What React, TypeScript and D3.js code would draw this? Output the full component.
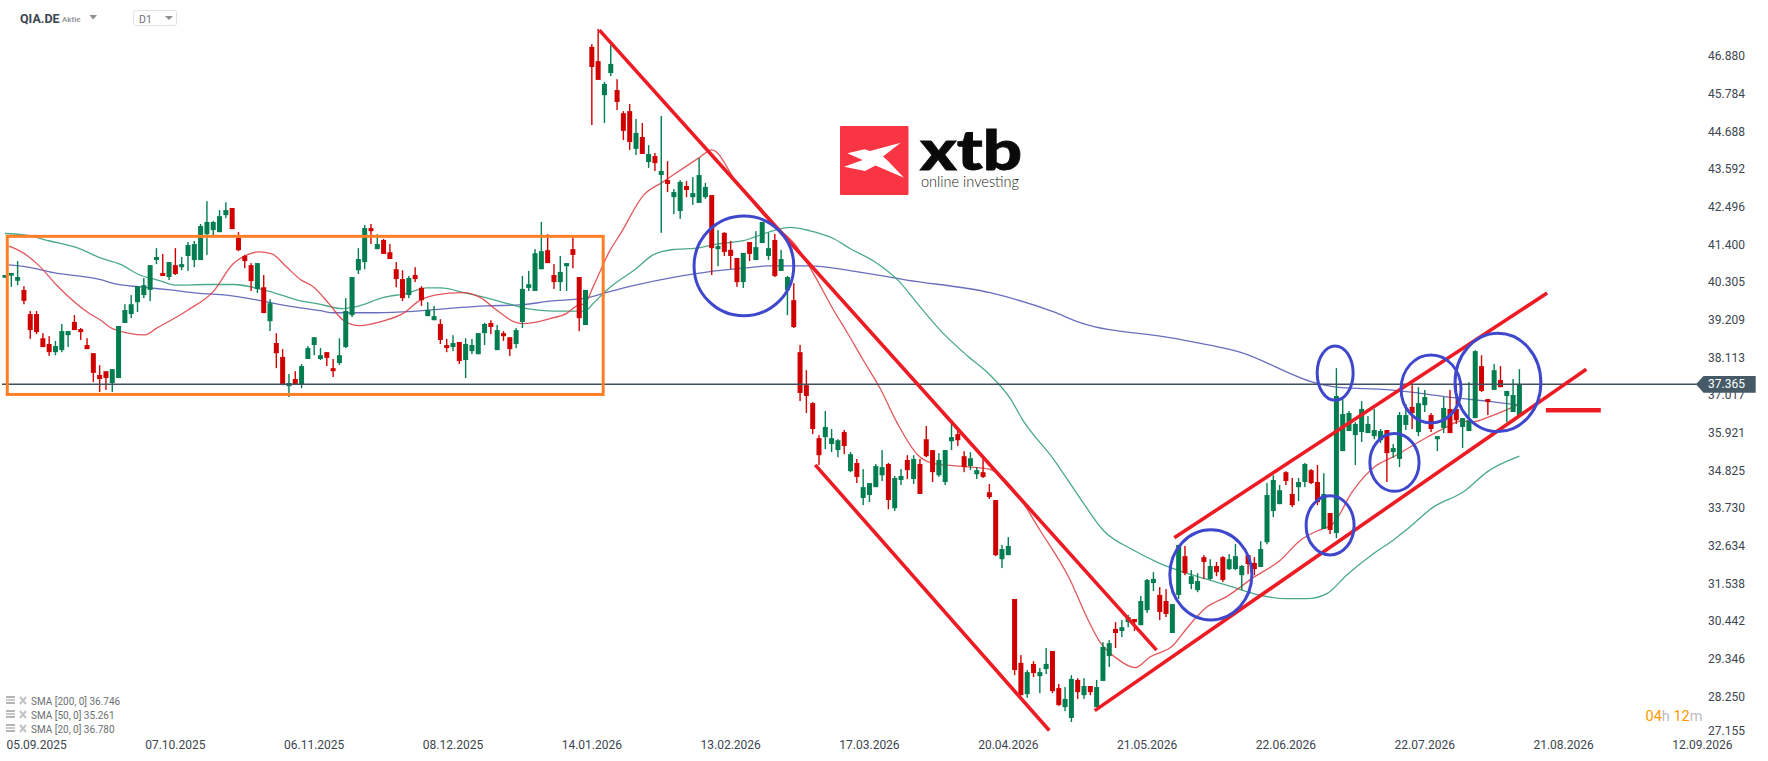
import * as d3 from "d3";

// prices, one block of ten per line
const rawOpens = [
  40.50,40.56,40.41,40.14,39.43,39.43,38.72,38.55,38.31,38.37,
  38.81,39.20,38.99,38.52,38.28,37.64,37.75,37.40,37.55,39.17,
  39.43,39.78,39.99,40.14,41.02,40.64,40.52,40.87,40.81,41.14,
  41.02,41.02,41.78,41.90,41.84,42.34,42.55,41.67,41.14,40.87,
  40.17,40.22,39.22,38.58,38.17,37.31,37.52,37.37,38.11,38.52,
  38.11,38.31,37.84,37.99,38.46,39.40,40.72,40.96,41.96,41.34,
  41.61,41.25,40.75,40.46,39.99,40.58,40.20,39.37,39.25,39.14,
  38.52,38.46,38.61,38.08,38.34,38.25,38.87,39.17,38.37,38.87,
  38.75,38.55,39.20,40.20,40.11,40.75,41.31,40.58,40.37,40.84,
  41.34,40.52,39.11,47.29,46.87,45.87,46.52,46.02,45.34,45.40,
  44.29,44.64,43.90,44.08,43.52,43.37,42.87,42.46,43.20,42.87,
  42.70,42.87,42.93,41.34,41.82,41.32,41.08,40.37,41.55,41.02,
  41.52,41.14,41.61,40.70,40.14,39.84,38.31,37.34,36.81,35.78,
  35.81,35.61,35.43,35.96,34.81,35.05,34.02,34.11,34.34,34.69,
  35.02,33.72,34.55,35.14,34.58,35.02,35.75,35.43,34.69,34.49,
  35.69,35.90,35.25,34.96,34.72,34.78,34.19,33.96,32.22,32.34,
  31.05,29.17,28.25,29.14,28.78,28.99,29.52,28.43,27.87,27.55,
  28.67,28.22,28.49,27.87,28.64,29.37,30.17,30.11,30.37,30.46,
  30.28,30.72,31.52,31.17,30.99,30.05,31.17,32.31,31.49,31.31,
  32.28,31.64,32.02,32.28,31.93,31.93,31.75,32.34,32.11,31.99,
  32.72,33.64,33.84,34.78,34.14,34.34,34.49,34.84,34.49,33.11,
  33.58,32.99,35.40,35.99,35.87,35.96,35.93,35.84,35.72,36.02,
  35.37,35.17,36.17,36.70,35.96,36.75,36.46,35.75,36.08,36.64,
  36.64,36.11,35.99,36.37,37.90,36.93,37.20,37.49,37.02,36.55,36.43,
];
const rawCloses = [
  40.58,40.64,40.52,39.82,38.96,38.90,38.46,38.31,38.49,38.93,
  38.93,38.96,38.90,38.40,37.70,37.52,37.55,37.81,39.08,39.55,
  39.72,40.25,40.28,40.87,41.11,40.55,40.96,40.61,40.90,41.46,
  41.49,42.02,42.14,42.14,42.31,42.49,41.93,41.31,40.99,40.40,
  40.93,39.46,39.75,38.28,37.37,37.40,37.37,37.90,38.43,38.75,
  38.22,38.14,37.75,38.22,39.52,40.52,41.05,41.96,41.87,41.49,
  41.20,41.05,40.46,39.90,40.49,40.46,39.84,39.55,39.37,38.67,
  38.43,38.58,38.05,38.55,38.52,38.87,39.14,39.05,38.96,38.78,
  38.40,38.96,40.17,40.31,41.22,41.28,40.93,40.37,40.67,40.93,
  41.17,39.31,40.14,46.70,46.32,46.20,46.79,45.67,44.82,44.49,
  44.76,44.14,44.14,43.87,43.64,43.26,43.02,43.32,43.08,42.99,
  43.52,43.17,41.37,41.43,41.26,41.14,40.37,41.23,41.20,41.40,
  42.14,41.37,40.55,41.05,40.52,39.05,37.11,37.02,36.05,35.28,
  36.11,35.78,35.72,35.55,35.31,34.64,34.34,34.46,34.96,34.93,
  33.96,34.61,34.67,34.84,35.17,34.14,35.25,34.78,35.14,35.43,
  35.81,35.72,34.93,35.19,34.84,34.64,34.05,32.34,32.52,32.61,
  28.96,28.22,28.90,28.87,28.90,29.14,28.34,27.93,28.11,28.70,
  28.31,28.49,28.31,28.46,29.64,29.75,30.05,30.22,30.52,30.37,
  30.99,31.61,31.64,30.67,30.61,30.90,32.64,31.81,31.72,31.58,
  32.14,32.02,31.84,31.61,32.22,32.31,32.02,32.08,31.93,32.52,
  34.11,34.55,34.25,34.52,33.81,34.49,35.02,34.46,33.90,34.14,
  33.08,37.02,36.49,36.52,36.20,36.64,36.20,36.02,35.99,35.34,
  35.49,36.46,36.46,36.52,36.81,36.99,36.05,35.84,36.67,35.93,
  36.31,36.37,36.31,38.34,37.17,36.84,37.78,37.28,37.17,37.05,37.37,
];
const rawHighs = [
  40.58,40.64,40.99,40.25,39.52,39.52,38.87,38.78,38.64,39.14,
  38.93,39.40,39.02,38.72,38.28,37.93,37.75,37.81,39.08,39.72,
  39.99,40.25,40.49,40.87,41.37,41.20,40.96,41.37,41.11,41.55,
  41.58,42.08,42.75,42.17,42.49,42.72,42.55,41.84,41.17,40.93,
  40.93,40.58,39.87,38.87,38.40,37.67,37.75,37.96,38.49,38.75,
  38.43,38.31,38.11,38.72,39.90,40.52,41.37,42.05,42.08,41.78,
  41.64,41.49,40.96,40.72,40.55,40.81,40.25,39.78,39.67,39.28,
  38.70,38.81,38.61,38.72,38.70,38.87,39.17,39.25,39.11,38.93,
  38.75,39.02,40.55,40.70,41.34,42.14,41.78,40.90,41.14,40.93,
  41.67,40.52,40.14,47.37,47.82,46.26,47.34,46.34,45.40,45.61,
  45.17,45.05,44.40,44.17,45.26,43.93,43.11,43.37,43.34,43.46,
  44.02,43.29,42.93,41.90,41.84,41.58,41.08,41.23,41.55,41.87,
  42.14,41.82,41.79,41.32,40.55,40.34,38.52,37.78,36.84,35.87,
  36.58,36.05,35.75,36.02,35.37,35.17,34.87,34.46,35.02,35.43,
  35.05,34.67,34.87,35.28,35.28,35.17,36.14,35.43,35.34,35.43,
  36.31,36.08,35.40,35.37,34.93,35.19,34.43,33.96,32.64,32.87,
  31.05,29.40,28.96,29.22,29.02,29.61,29.52,28.55,28.46,28.81,
  28.72,28.72,28.49,28.67,29.78,29.84,30.37,30.43,30.58,30.46,
  31.14,31.64,31.84,31.40,31.34,30.90,32.64,32.61,31.90,31.81,
  32.34,32.22,32.14,32.31,32.37,32.67,32.05,32.34,32.28,32.75,
  34.46,34.69,34.40,34.81,34.61,34.61,35.05,34.87,34.99,34.75,
  33.58,37.84,36.93,36.58,36.25,36.87,36.43,36.64,36.05,36.02,
  35.61,36.55,36.78,37.34,37.28,37.20,36.52,35.84,36.99,37.20,
  37.34,36.37,37.43,38.37,38.22,36.93,37.96,37.90,37.17,37.52,37.81,
];
const rawLows = [
  40.50,40.23,40.28,39.72,38.70,38.84,38.46,38.20,38.22,38.31,
  38.46,38.96,38.67,38.40,37.43,37.14,37.20,37.14,37.55,39.17,
  39.31,39.49,39.90,39.81,40.90,40.55,40.43,40.58,40.72,40.70,
  40.81,41.02,41.17,41.75,41.84,42.25,41.93,41.28,40.78,40.11,
  40.05,39.46,38.93,37.84,37.34,36.99,37.37,37.25,38.11,38.22,
  38.08,37.90,37.58,37.93,38.43,39.34,40.61,40.75,41.49,41.34,
  41.20,41.05,40.22,39.81,39.90,40.37,39.67,39.37,39.25,38.55,
  38.31,38.34,37.96,37.55,38.25,38.25,38.52,38.84,38.37,38.64,
  38.20,38.43,39.02,40.11,40.11,40.75,40.93,40.17,40.11,40.11,
  40.78,38.93,39.11,44.99,46.32,45.05,46.43,45.43,44.55,44.26,
  44.11,44.14,43.73,43.64,41.82,43.02,42.37,42.23,42.87,42.64,
  42.70,42.82,40.58,40.84,41.14,40.76,40.23,40.20,40.99,41.02,
  41.52,41.02,40.52,40.70,39.40,39.02,36.87,36.52,35.90,34.99,
  35.46,35.37,35.22,35.31,34.78,34.46,33.81,33.90,34.34,34.52,
  33.69,33.64,34.40,34.58,34.43,34.14,35.22,34.49,34.64,34.40,
  35.43,35.55,34.78,34.84,34.58,34.61,33.99,32.31,31.96,32.34,
  28.81,28.22,28.14,28.75,28.28,28.84,28.28,27.90,27.75,27.43,
  28.11,28.11,28.22,27.87,28.64,29.05,29.61,29.93,30.22,30.11,
  30.28,30.64,31.28,30.43,30.52,30.05,31.05,31.75,31.34,31.25,
  31.64,31.61,31.72,31.55,31.90,31.90,31.31,31.78,31.75,31.99,
  32.66,33.46,33.84,34.40,33.75,33.93,34.34,34.43,33.81,33.11,
  32.96,32.84,35.40,35.99,34.99,35.67,35.93,35.75,35.64,34.49,
  35.20,34.93,36.02,36.05,35.84,36.55,35.96,35.40,35.93,35.93,
  36.20,35.49,35.99,36.37,37.14,36.46,37.20,37.28,36.25,36.55,36.43,
];

// moving averages: candle index and price at the points
const sma20Idx = [0.6,2.9,5.3,8.2,13.2,15,17.2,22.2,24,29,33,36.2,37.8,40.2,42.3,44.6,46.8,48.9,51.5,53.6,56.2,60,63.1,65.8,68.1,72.6,75.3,77.9,80.6,82.1,86.4,89,90.6,91.9,93.2,95.9,97.5,101.2,104.3,110.1,112,116,121.2,125.5,128.1,131.3,133.4,136,138.7,141.3,144.7,147.1,150.2,156,158.2,160.3,164,168.8,171.4,173.5,176.2,179.1,181.5,185.1,187.3,190.5,193.6,197.6,202.1,205.3,207.9,210.5,213.5,217.2,220,225.3,228.6,230.8,232.4,235.5,240];
const sma20 = [41.43,41.23,40.87,40.28,39.47,39.27,38.99,38.82,39.01,39.55,40.09,40.92,41.12,41.26,41.2,40.82,40.45,40.23,39.70,39.25,39.09,39.23,39.45,39.84,39.99,40.06,39.92,39.55,39.21,39.15,39.30,39.45,39.67,39.74,40.23,41.31,41.78,42.93,43.32,44.04,44.26,43.28,42.15,41.41,40.63,39.55,38.91,38.08,37.24,36.26,35.28,35.04,34.97,34.87,34.60,34.16,33.08,31.61,30.53,29.79,29.30,29.03,29.35,29.68,30.19,30.82,31.12,31.65,32.19,32.78,33.05,33.27,34.20,34.96,35.23,35.80,36.12,36.29,36.26,36.43,36.78];
const sma50Idx = [0,3.4,7.1,11.9,15,18.2,21.4,24.6,27.2,32,36.2,41,44.1,46.8,49.4,53.6,55.7,60,63.7,66.8,69,73.2,76.9,80,82.7,86.9,91.9,93.2,95.4,100.1,102.7,105.9,109.6,112.8,117,121.2,124.4,127.6,131.2,133.9,138,141.5,145,148.2,152.4,156.1,159.3,161.3,166.1,170.5,174,178.8,183,188.3,193.6,198.9,203.1,206.3,209.5,212.6,216.9,220,222.2,226.4,231.2,234.9,240];
const sma50 = [41.80,41.75,41.58,41.35,41.09,40.90,40.58,40.41,40.28,40.30,40.30,40.14,39.97,39.82,39.74,39.59,39.65,39.92,40.04,40.20,40.20,40.04,39.88,39.72,39.59,39.52,39.52,39.74,40.14,40.78,41.17,41.33,41.37,41.49,41.59,41.85,41.98,41.88,41.66,41.36,40.95,40.43,39.65,38.96,38.22,37.64,36.95,36.31,35.18,33.98,33.08,32.49,32.10,31.75,31.46,31.16,31.06,31.06,31.21,31.75,32.39,32.78,33.10,33.76,34.21,34.79,35.25];
const sma200Idx = [0.6,3.4,7.7,15,17.7,21.4,26.2,30.9,35.1,41.5,44.6,50,52,58.9,64.7,70.5,76.3,81.6,86.4,92.2,94.8,100.1,105.9,111.7,117,121.2,127.6,133.9,142.9,156.1,166.1,170.4,185.1,195.7,208.4,211.7,219,224.3,229.6,234.9,240];
const sma200 = [40.88,40.82,40.65,40.45,40.31,40.23,40.14,40.04,39.99,39.79,39.68,39.53,39.47,39.47,39.51,39.60,39.67,39.70,39.81,39.91,40.04,40.29,40.51,40.68,40.78,40.85,40.85,40.71,40.43,40.06,39.50,39.18,38.72,38.31,37.37,37.27,37.21,37.10,36.97,36.87,36.75];

const priceTicks = [46.88,45.784,44.688,43.592,42.496,41.4,40.305,39.209,38.113,37.017,35.921,34.825,33.73,32.634,31.538,30.442,29.346,28.25,27.155];
const dateLabels = ["05.09.2025","07.10.2025","06.11.2025","08.12.2025","14.01.2026","13.02.2026","17.03.2026","20.04.2026","21.05.2026","22.06.2026","22.07.2026","21.08.2026","12.09.2026"];
const dateIdx = [5,27,49,71,93,115,137,159,181,203,225,247,269];
const legendLabels = ["SMA [200, 0] 36.746","SMA [50, 0] 35.261","SMA [20, 0] 36.780"];
const lastPrice = 37.365;

// hand drawn analysis on the chart, in candle index / price
const trendLines = [
  [94.2,47.67,182.5,29.63],
  [128.4,35.02,165.5,27.29],
  [172.7,27.87,250.6,37.80],
  [185.3,32.90,244.4,40.02],
];
const stopLine = [244.2,36.61,252.9,36.61];
const circles = [
  [117.1,40.81,7.9,1.45],
  [191.1,31.82,6.5,1.31],
  [210,33.26,3.8,0.86],
  [220.2,35.09,3.9,0.84],
  [210.8,37.69,2.85,0.79],
  [226,37.23,4.75,0.99],
  [236.6,37.42,6.8,1.43],
];
const boxIdx = [0.36,94.8];
const boxPrice = [41.67,37.07];

// the prices above were read with a scale about 1% too flat, pull them back around the last price
const fix = (v: number) => lastPrice + ((v - lastPrice) * 34) / 34.37;
const opens = rawOpens.map(fix);
const closes = rawCloses.map(fix);
const highs = rawHighs.map(fix);
const lows = rawLows.map(fix);

const RED = "#d00000";
const GREEN = "#027d50";
const FONT = "Roboto, sans-serif";

export default function App() {
  const x = d3.scaleLinear().domain([0, 240]).range([5, 1519.4]);
  const y = d3.scaleLinear().domain([lastPrice, 46.88]).range([384.3, 57.3]);

  const smaPath = (idx: number[], vals: number[]) =>
    d3
      .line<number>()
      .x((d) => x(d))
      .y((_, i) => y(fix(vals[i])))
      .curve(d3.curveMonotoneX)(idx) ?? "";

  const smas = [
    { idx: sma200Idx, vals: sma200, color: "#4f55b3" },
    { idx: sma50Idx, vals: sma50, color: "#2b9a74" },
    { idx: sma20Idx, vals: sma20, color: "#de3a3f" },
  ];

  const lineY = y(lastPrice);

  return (
    <svg
      width={1768}
      height={761}
      style={{ position: "absolute", left: 0, top: 0, display: "block", background: "#fff" }}
    >
      {/* header */}
      <text x={20} y={23} fontFamily={FONT} fontWeight={700} fontSize={12.5} fill="#3b4650">QIA.DE</text>
      <text x={62} y={22} fontFamily={FONT} fontWeight={500} fontSize={8} fill="#8a8f94">Aktie</text>
      <path d="M89.5 15 L97 15 L93.2 19.5 Z" fill="#8d8d8d" />
      <rect x={133.5} y={10.5} width={43} height={15} rx={2} fill="#fff" stroke="#e3e3e3" />
      <text x={139} y={23} fontFamily={FONT} fontSize={10.5} fill="#6d7278">D1</text>
      <path d="M165 16 L173 16 L169 20 Z" fill="#8d8d8d" />

      {/* logo */}
      <rect x={840} y={126} width={68.5} height={69} rx={1} fill="#f93443" />
      <path
        d="M900.7 142.7 L870 151 L864.7 149.3 L847.3 153.3 L862.7 160 L844 166.7 L865 171 L875.5 165.5 L904 177.7 L888.5 161.5 L883 156.5 Z"
        fill="#fff"
      />
      <text x={920} y={170} fontFamily="Lato, sans-serif" fontWeight={900} fontSize={55} fill="#0a0a0a" stroke="#0a0a0a" strokeWidth={0.8} textLength={102} lengthAdjust="spacingAndGlyphs">xtb</text>
      <text x={921} y={187} fontFamily="Lato, sans-serif" fontWeight={300} fontSize={15} fill="#222" textLength={98} lengthAdjust="spacingAndGlyphs">online investing</text>

      {/* moving averages */}
      {smas.map((s) => (
        <path key={s.color} d={smaPath(s.idx, s.vals)} fill="none" stroke={s.color} strokeWidth={1.3} strokeOpacity={0.85} />
      ))}

      {/* candles */}
      {opens.map((o, i) => {
        const c = closes[i];
        const color = c >= o ? GREEN : RED;
        const top = y(Math.max(o, c));
        const bot = y(Math.min(o, c));
        return (
          <g key={i} fill={color}>
            <rect x={x(i) - 0.7} y={y(highs[i])} width={1.4} height={y(lows[i]) - y(highs[i])} />
            <rect x={x(i) - 2.5} y={top} width={5} height={Math.max(bot - top, 1)} />
          </g>
        );
      })}

      {/* last price line */}
      <line x1={2} x2={1700} y1={lineY} y2={lineY} stroke="#3f505c" strokeWidth={1.4} />

      {/* drawings */}
      <rect
        x={x(boxIdx[0])}
        y={y(boxPrice[0])}
        width={x(boxIdx[1]) - x(boxIdx[0])}
        height={y(boxPrice[1]) - y(boxPrice[0])}
        fill="none"
        stroke="#ff7f27"
        strokeWidth={3}
      />
      {trendLines.map((l, i) => (
        <line key={i} x1={x(l[0])} y1={y(l[1])} x2={x(l[2])} y2={y(l[3])} stroke="#ed1c24" strokeWidth={3.6} />
      ))}
      <line
        x1={x(stopLine[0])}
        y1={y(stopLine[1])}
        x2={x(stopLine[2])}
        y2={y(stopLine[3])}
        stroke="#ed1c24"
        strokeWidth={4.6}
      />
      {circles.map((c, i) => (
        <ellipse
          key={i}
          cx={x(c[0])}
          cy={y(c[1])}
          rx={x(c[2]) - x(0)}
          ry={y(0) - y(c[3])}
          fill="none"
          stroke="#3f48cc"
          strokeWidth={3}
        />
      ))}

      {/* price axis */}
      {priceTicks.map((t) => (
        <text
          key={t}
          x={1708}
          y={Math.min(y(t), 731.5)}
          dominantBaseline="middle"
          fontFamily={FONT}
          fontSize={12}
          fill="#3b4650"
        >
          {t.toFixed(3)}
        </text>
      ))}
      <path d="M1696 384.3 L1703.5 376 L1755.7 376 L1755.7 392.7 L1703.5 392.7 Z" fill="#455a66" />
      <text x={1708} y={384.6} dominantBaseline="middle" fontFamily={FONT} fontSize={12} fill="#fff">
        {lastPrice.toFixed(3)}
      </text>

      {/* date axis */}
      {dateLabels.map((d, i) => (
        <text key={d} x={x(dateIdx[i])} y={748.5} textAnchor="middle" fontFamily={FONT} fontSize={12} fill="#3b4650">
          {d}
        </text>
      ))}

      {/* legend */}
      {legendLabels.map((l, i) => (
        <g key={l} transform={`translate(0, ${701 + i * 14})`}>
          <rect x={6} y={-5} width={9} height={2} fill="#b5b5b5" />
          <rect x={6} y={-2} width={9} height={2} fill="#c9c9c9" />
          <rect x={6} y={1} width={9} height={2} fill="#b5b5b5" />
          <path d="M20 -4 L26 3 M26 -4 L20 3" stroke="#c2c2c2" strokeWidth={2} />
          <text x={31} y={4} fontFamily={FONT} fontSize={10} fill="#6b6f73">{l}</text>
        </g>
      ))}

      {/* countdown */}
      <text x={1645.5} y={721} fontFamily={FONT} fontSize={14.5}>
        <tspan fill="#ff9800">04</tspan>
        <tspan fill="#bdbdbd">h </tspan>
        <tspan fill="#ff9800">12</tspan>
        <tspan fill="#bdbdbd">m</tspan>
      </text>
    </svg>
  );
}
